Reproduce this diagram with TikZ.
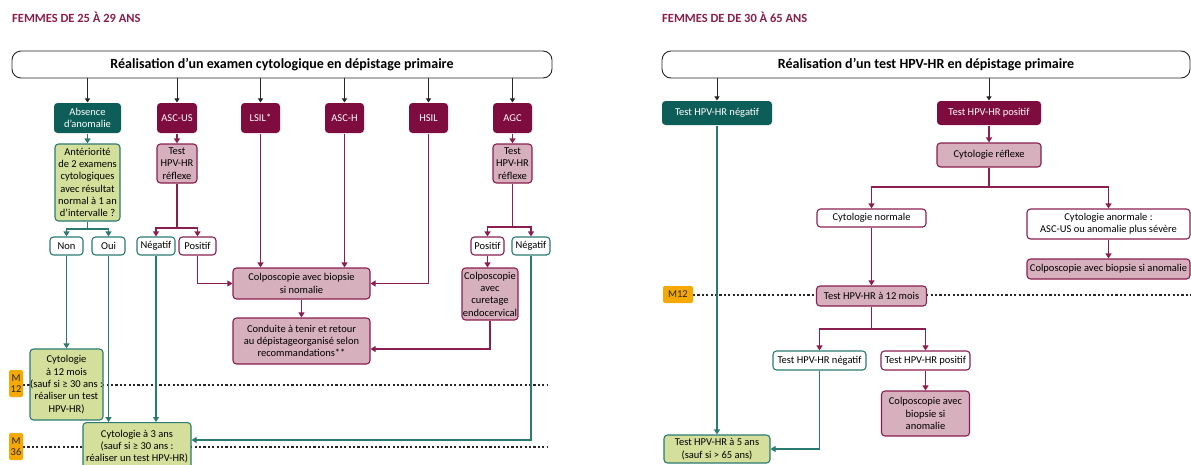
\documentclass[tikz,border=0pt]{standalone}
\usepackage{fontspec}
\setmainfont{Carlito}
\usetikzlibrary{arrows.meta}
\definecolor{magdark}{HTML}{7E0C3F}
\definecolor{magline}{HTML}{8A1E50}
\definecolor{pinkfill}{HTML}{D6B0BC}
\definecolor{tealdark}{HTML}{0D5E58}
\definecolor{tealline}{HTML}{2A7A72}
\definecolor{greenfill}{HTML}{D4DF9C}
\definecolor{orangelab}{HTML}{F5A800}
\definecolor{hdrcol}{HTML}{8A1E4A}
\tikzset{
  base/.style={rounded corners=3.5pt, inner sep=0pt, align=center, font=\fontsize{10.5}{12.3}\selectfont, line width=1.1pt},
  topbox/.style={base, draw=black!85, fill=white, rounded corners=9pt, font=\fontsize{14}{16}\selectfont\bfseries, line width=0.9pt},
  catm/.style={base, fill=magdark, text=white},
  catt/.style={base, fill=tealdark, text=white},
  pinkbox/.style={base, fill=pinkfill, draw=magline},
  greenbox/.style={base, fill=greenfill, draw=tealline},
  wm/.style={base, fill=white, draw=magline},
  wt/.style={base, fill=white, draw=tealline},
  mlab/.style={base, fill=orangelab, rounded corners=2pt, text=black!85},
  hdr/.style={anchor=west, inner sep=0pt, text=hdrcol, font=\fontsize{12.5}{14}\selectfont\bfseries},
  karr/.style={draw=black!85, line width=0.9pt, -{Triangle[width=5pt,length=4pt]}},
  marr/.style={draw=magline, line width=1.1pt, -{Triangle[width=6pt,length=5pt]}},
  tarr/.style={draw=tealline, line width=1.1pt, -{Triangle[width=6pt,length=5pt]}},
  dotl/.style={draw=black!85, line width=1.3pt, dash pattern=on 2.2pt off 2.2pt},
}
\begin{document}
\begin{tikzpicture}[x=1pt,y=-1pt]
\useasboundingbox (0,0) rectangle (1191,464);
% ---------- dotted time lines (behind) ----------
\coordinate (d1a) at (23,385);  \coordinate (d1b) at (548,385);
\coordinate (d2a) at (23,447);  \coordinate (d2b) at (548,447);
\coordinate (d3a) at (693,295); \coordinate (d3b) at (1191,295);
\draw[dotl] (d1a) -- (d1b);
\draw[dotl] (d2a) -- (d2b);
\draw[dotl] (d3a) -- (d3b);
% ---------- headers ----------
\node[hdr] (h1) at (12,17) {FEMMES DE 25 À 29 ANS};
\node[hdr] (h2) at (662,17) {FEMMES DE DE 30 À 65 ANS};
% ================= LEFT =================
\node[topbox, minimum width=540, minimum height=27] (topL) at (282,64.5) {Réalisation d’un examen cytologique en dépistage primaire};
\node[catt, minimum width=67, minimum height=30] (abs) at (87.5,118) {Absence\\d’anomalie};
\node[catm, minimum width=40, minimum height=30] (ascus) at (177,118) {ASC-US};
\node[catm, minimum width=39, minimum height=30] (lsil) at (260.5,118) {LSIL*};
\node[catm, minimum width=39, minimum height=30] (asch) at (344.5,118) {ASC-H};
\node[catm, minimum width=39, minimum height=30] (hsil) at (428.5,118) {HSIL};
\node[catm, minimum width=39, minimum height=30] (agc) at (512.5,118) {AGC};
\foreach \n in {abs,ascus,lsil,asch,hsil,agc}{
  \draw[karr] (topL.south -| \n.north) -- (\n.north);
}
\node[greenbox, minimum width=65, minimum height=77] (ant) at (87.5,182.5) {Antériorité\\de 2 examens\\cytologiques\\avec résultat\\normal à 1 an\\d’intervalle ?};
\node[pinkbox, minimum width=40, minimum height=39] (tA) at (177,163.5) {Test\\HPV-HR\\réflexe};
\node[pinkbox, minimum width=39, minimum height=39] (tB) at (512.5,163.5) {Test\\HPV-HR\\réflexe};
\draw[tarr] (abs.south) -- (ant.north);
\draw[marr] (ascus.south) -- (tA.north);
\draw[marr] (agc.south) -- (tB.north);

\node[wt, minimum width=33, minimum height=18] (non) at (66.5,246) {Non};
\node[wt, minimum width=33, minimum height=18] (oui) at (108.5,246) {Oui};
\node[wt, minimum width=38, minimum height=18] (neg1) at (156,246) {Négatif};
\node[wm, minimum width=37, minimum height=18] (pos1) at (197.5,246) {Positif};
\node[wm, minimum width=33, minimum height=18] (pos2) at (487.5,246) {Positif};
\node[wt, minimum width=38, minimum height=18] (neg2) at (531,246) {Négatif};

\coordinate (ja) at (87.5,229);
\draw[tarr] (ant.south) -- (ja) -| (non.north);
\draw[tarr] (ja) -| (oui.north);
\coordinate (jb) at (177,228);
\draw[marr] (tA.south) -- (jb) -| (neg1.north);
\draw[marr] (jb) -| (pos1.north);
\coordinate (jc) at (512.5,227);
\draw[marr] (tB.south) -- (jc) -| (pos2.north);
\draw[marr] (jc) -| (neg2.north);

\node[pinkbox, minimum width=137, minimum height=31] (colpo) at (301.5,283.5) {Colposcopie avec biopsie\\si nomalie};
\node[pinkbox, minimum width=137, minimum height=46] (cond) at (301.5,341) {Conduite à tenir et retour\\au dépistageorganisé selon\\recommandations**};
\node[pinkbox, minimum width=56, minimum height=52] (cure) at (490,294) {Colposcopie\\avec\\curetage\\endocervical};

\draw[marr] (lsil.south) -- (lsil.south |- colpo.north);
\draw[marr] (asch.south) -- (asch.south |- colpo.north);
\draw[marr] (hsil.south) |- (colpo.east);
\draw[marr] (pos1.south) |- (colpo.west);
\draw[marr] (colpo.south) -- (cond.north);
\draw[marr] (pos2.south) -- (pos2.south |- cure.north);
\draw[marr] (cure.south) |- (cond.east |- 0,349);

\node[greenbox, minimum width=73, minimum height=71] (c12) at (66.5,384.5) {Cytologie\\à 12 mois\\(sauf si ≥ 30 ans :\\réaliser un test\\HPV-HR)};
\node[greenbox, minimum width=108, minimum height=48, anchor=north] (c3) at (137,422) {Cytologie à 3 ans\\(sauf si ≥ 30 ans :\\réaliser un test HPV-HR)};
\draw[tarr] (non.south) -- (c12.north);
\draw[tarr] (oui.south) -- (oui.south |- c3.north);
\draw[tarr] (neg1.south) -- (neg1.south |- c3.north);
\draw[tarr] (neg2.south) |- (c3.east |- 0,440);

\node[mlab, minimum width=14, minimum height=27, font=\fontsize{10.5}{11}\selectfont] (m12) at (16,383.5) {M\\12};
\node[mlab, minimum width=14, minimum height=27, font=\fontsize{10.5}{11}\selectfont] (m36) at (16,446.5) {M\\36};

% ================= RIGHT =================
\node[topbox, minimum width=528, minimum height=27] (topR) at (926,64.5) {Réalisation d’un test HPV-HR en dépistage primaire};
\node[catt, minimum width=110, minimum height=24] (negR) at (717,113) {Test HPV-HR négatif};
\node[catm, minimum width=104, minimum height=24] (posR) at (989,113) {Test HPV-HR positif};
\draw[karr] (topR.south -| negR.north) -- (negR.north);
\draw[karr] (topR.south -| posR.north) -- (posR.north);
\node[pinkbox, minimum width=104, minimum height=24] (cref) at (989,155) {Cytologie réflexe};
\draw[marr] (posR.south) -- (cref.north);
\node[wm, minimum width=109, minimum height=18] (cnorm) at (871.5,218) {Cytologie normale};
\node[wm, minimum width=163, minimum height=30] (canorm) at (1108.5,224) {Cytologie anormale :\\ASC-US ou anomalie plus sévère};
\coordinate (jd) at (989,187);
\draw[marr] (cref.south) -- (jd) -| (cnorm.north);
\draw[marr] (jd) -| (canorm.north);
\node[pinkbox, minimum width=163, minimum height=20] (colpR) at (1108.5,269) {Colposcopie avec biopsie si anomalie};
\draw[marr] (canorm.south) -- (colpR.north);
\node[pinkbox, minimum width=110, minimum height=20] (t12) at (871.5,296) {Test HPV-HR à 12 mois};
\draw[marr] (cnorm.south) -- (t12.north);
\node[mlab, minimum width=30, minimum height=17] (m12R) at (678,294.5) {M12};
\node[wt, minimum width=93, minimum height=19] (negR2) at (819.5,360.5) {Test HPV-HR négatif};
\node[wm, minimum width=89, minimum height=19] (posR2) at (925.5,360.5) {Test HPV-HR positif};
\coordinate (je) at (871.5,329);
\draw[marr] (t12.south) -- (je) -| (negR2.north);
\draw[marr] (je) -| (posR2.north);
\node[pinkbox, minimum width=88, minimum height=45] (colpR2) at (925.5,413.5) {Colposcopie avec\\biopsie si\\anomalie};
\draw[marr] (posR2.south) -- (colpR2.north);
\node[greenbox, minimum width=106, minimum height=28] (t5) at (717,449) {Test HPV-HR à 5 ans\\(sauf si > 65 ans)};
\draw[tarr] (negR.south) -- (t5.north);
\draw[tarr] (negR2.south) |- (t5.east);
\end{tikzpicture}
\end{document}
